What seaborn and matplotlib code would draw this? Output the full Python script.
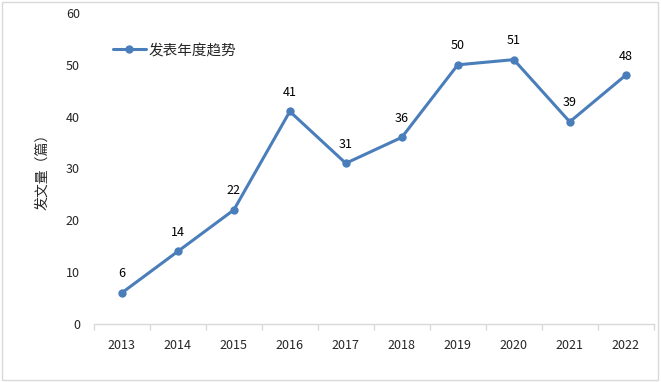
import matplotlib
matplotlib.use("Agg")
import matplotlib.pyplot as plt
import seaborn as sns
import pandas as pd
from matplotlib.patches import Rectangle

years = ["2013", "2014", "2015", "2016", "2017", "2018", "2019", "2020", "2021", "2022"]
counts = [6, 14, 22, 41, 31, 36, 50, 51, 39, 48]
series_name = "发表年度趋势"
ylabel = "发文量（篇）"

sns.set_theme(style="white")
plt.rcParams['font.family'] = ['Noto Sans CJK SC', 'DejaVu Sans']

df = pd.DataFrame({"pos": range(len(years)), "count": counts, "series": series_name})

fig = plt.figure(figsize=(6.61, 3.82), dpi=100)
ax = fig.add_axes([0.142, 0.152, 0.847, 0.814])
color = "#4A7EBB"
sns.lineplot(data=df, x="pos", y="count", hue="series", palette=[color], marker="o",
             markersize=6, markeredgewidth=0, linewidth=2.2, ax=ax)

for i, v in enumerate(counts):
    ax.annotate(str(v), (i, v), xytext=(0, 9), textcoords="offset points",
                ha="center", va="bottom", fontsize=9, color="#000000")

ax.set_xlim(-0.5, len(years) - 0.5)
ax.set_ylim(0, 60)
ax.set_yticks(range(0, 61, 10))
ax.set_xticks(range(len(years)))
ax.set_xticklabels(years, fontsize=9)
ax.tick_params(axis="y", labelsize=9, length=0, pad=10)
ax.tick_params(axis="x", which="major", length=0, pad=11)
ax.set_xticks([i - 0.5 for i in range(len(years) + 1)], minor=True)
ax.tick_params(axis="x", which="minor", length=4, color="#D9D9D9", width=1, bottom=True)
for s in ["left", "right", "top"]:
    ax.spines[s].set_visible(False)
ax.spines["bottom"].set_color("#D9D9D9")
ax.spines["bottom"].set_linewidth(1)
ax.set_xlabel("")
ax.set_ylabel(ylabel, fontsize=10, labelpad=12)

leg = ax.legend(loc="upper left", bbox_to_anchor=(0.01, 0.945), frameon=False,
                fontsize=10.5, handlelength=2.3, handletextpad=0.2)

fig.patches.append(Rectangle((0.003, 0.005), 0.992, 0.99, transform=fig.transFigure,
                             fill=False, edgecolor="#D9D9D9", linewidth=1))
fig.savefig("out.png", dpi=100)
